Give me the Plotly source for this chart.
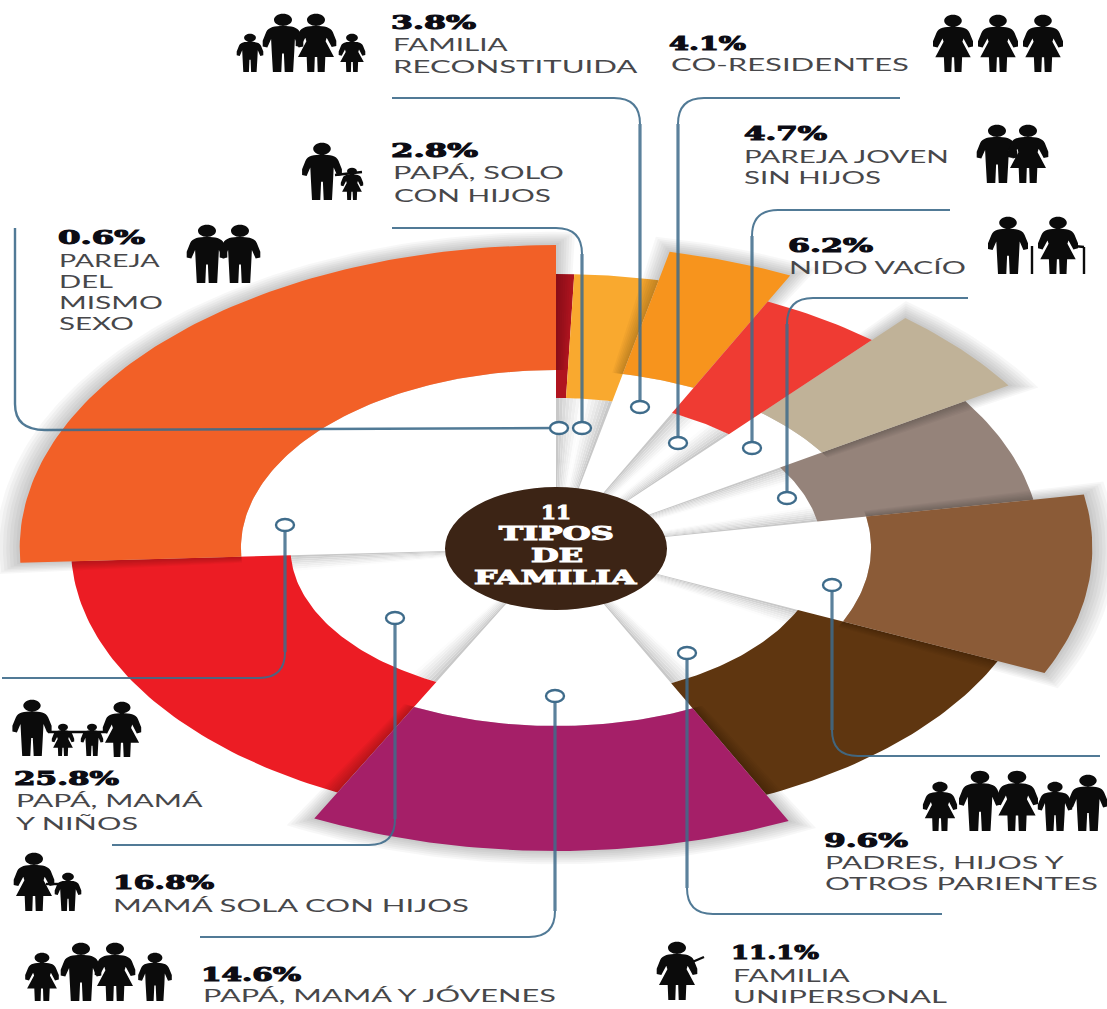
import json
import math
import plotly.graph_objects as go

# Household types, clockwise from twelve o'clock
categories = ["Pareja del mismo sexo", "Papá, solo con hijos", "Familia reconstituida",
              "Co-residentes", "Pareja joven sin hijos", "Nido vacío",
              "Padres, hijos y otros parientes", "Familia unipersonal",
              "Papá, mamá y jóvenes", "Mamá sola con hijos", "Papá, mamá y niños"]
shares = [0.6, 2.8, 3.8, 4.1, 4.7, 6.2, 9.6, 11.1, 14.6, 16.8, 25.8]
colors = ["#b0141f", "#f9a92f", "#f7941d", "#ef3b33", "#c0b298", "#95837a",
          "#8b5b37", "#5f3610", "#a51f68", "#ec1c24", "#f26027"]
raised = [False, False, True, False, True, False, True, False, True, False, True]

# Radial geometry of the exploded ring; the canvas is wider than tall
CX, CY, STRETCH = 556, 548, 1.77
R_LOW = (150, 274)
R_HIGH = (178, 303)

# Label lines: text, left edge, right edge, vertical centre
pct_lines = [("3.8%", 390, 475, 22), ("2.8%", 390, 477, 150), ("4.1%", 668, 745, 43),
             ("4.7%", 743, 826, 133), ("6.2%", 787, 872, 245), ("0.6%", 57, 144, 237),
             ("25.8%", 13, 118, 778), ("16.8%", 112, 213, 882), ("14.6%", 200, 300, 974),
             ("9.6%", 823, 907, 840), ("11.1%", 730, 818, 952)]
name_lines = [("FAMILIA", 392, 508, 44), ("RECONSTITUIDA", 392, 638, 66),
              ("PAPÁ, SOLO", 392, 563, 172), ("CON HIJOS", 393, 550, 195),
              ("CO-RESIDENTES", 670, 908, 64), ("PAREJA JOVEN", 743, 948, 156),
              ("SIN HIJOS", 743, 880, 177), ("NIDO VACÍO", 788, 965, 267),
              ("PAREJA", 58, 160, 260), ("DEL", 58, 112, 281), ("MISMO", 58, 162, 302),
              ("SEXO", 58, 133, 323), ("PAPÁ, MAMÁ", 15, 203, 800), ("Y NIÑOS", 15, 137, 823),
              ("MAMÁ SOLA CON HIJOS", 112, 468, 905), ("PAPÁ, MAMÁ Y JÓVENES", 202, 555, 995),
              ("PADRES, HIJOS Y", 824, 1064, 862), ("OTROS PARIENTES", 824, 1097, 883),
              ("FAMILIA", 732, 850, 975), ("UNIPERSONAL", 732, 946, 996)]
hub_lines = [("11", 540, 570, 512), ("TIPOS", 498, 613, 533),
             ("DE", 530, 582, 555), ("FAMILIA", 473, 637, 577)]

# Leader lines: outer end, corner (x, y), ring position
leaders = [((392, 98), (640, 98), (640, 407)),
           ((392, 228), (582, 228), (582, 428)),
           ((15, 228), (15, 430), (559, 428)),
           ((900, 98), (678, 98), (678, 443)),
           ((950, 210), (752, 210), (752, 448)),
           ((968, 298), (787, 298), (787, 498)),
           ((1100, 756), (832, 756), (832, 585)),
           ((2, 678), (285, 678), (285, 525)),
           ((112, 845), (395, 845), (395, 618)),
           ((200, 937), (555, 937), (555, 696)),
           ((942, 914), (687, 914), (687, 653))]

# Pictograms: centre x, top y, height, figure type
figures = [(250, 34, 38, "m"), (283, 14, 58, "m"), (316, 14, 58, "f"), (352, 34, 38, "f"),
           (322, 143, 57, "m"), (352, 168, 32, "f"),
           (953, 15, 57, "f"), (998, 15, 57, "f"), (1043, 15, 57, "f"),
           (997, 125, 58, "m"), (1028, 125, 58, "f"),
           (1008, 217, 57, "m"), (1058, 217, 57, "f"),
           (207, 225, 58, "m"), (240, 225, 58, "m"),
           (32, 700, 56, "m"), (63, 724, 32, "f"), (92, 724, 32, "m"), (122, 702, 55, "f"),
           (34, 853, 58, "f"), (68, 873, 38, "m"),
           (42, 953, 48, "f"), (81, 943, 58, "m"), (115, 943, 58, "f"), (155, 953, 48, "m"),
           (940, 782, 49, "f"), (980, 771, 60, "m"), (1017, 771, 60, "f"),
           (1055, 782, 49, "m"), (1088, 775, 56, "m"),
           (677, 942, 58, "f")]
# Thin extras on the pictograms: canes and joined hands
thin_strokes = [((1032, 246), (1032, 274)), ((1084, 247), (1084, 274)),
                ((1074, 246), (1084, 247)), ((48, 732), (107, 732)),
                ((46, 884), (60, 884)), ((335, 175), (362, 172)),
                ((690, 963), (704, 957))]


def xy(theta_deg, r):
    t = math.radians(theta_deg)
    return CX + STRETCH * r * math.sin(t), CY - r * math.cos(t)


def sector(t0, t1, r0, r1):
    n = max(4, int(abs(t1 - t0)))
    angles = [t0 + (t1 - t0) * i / n for i in range(n + 1)]
    outer = [xy(a, r1) for a in angles]
    inner = [xy(a, r0) for a in reversed(angles)] if r0 > 0 else [xy(t0, 0)]
    pts = outer + inner + [outer[0]]
    return [p[0] for p in pts], [p[1] for p in pts]


def area(xs, ys, fill):
    return go.Scatter(x=xs, y=ys, mode="lines", fill="toself", fillcolor=fill,
                      line=dict(width=0), hoverinfo="skip", showlegend=False)


total = sum(shares)
edges = [0.0]
for s in shares:
    edges.append(edges[-1] + s / total * 360)
# The two thinnest slices share one recessed inner fan
fans = [(edges[0], edges[2]), (edges[3], edges[4]), (edges[5], edges[6]),
        (edges[7], edges[8]), (edges[9], edges[10])]

fig = go.Figure()

# Folded grey edges of the recessed inner fans
STEPS = 8
STEP_DEG = 0.75
for k in range(STEPS):
    level = int(200 + (252 - 200) * (k / (STEPS - 1)) ** 0.8)
    xs, ys = [], []
    for a, b in fans:
        for lo, hi in ((a + k * STEP_DEG, a + (k + 1) * STEP_DEG),
                       (b - (k + 1) * STEP_DEG, b - k * STEP_DEG)):
            px, py = sector(lo, hi, 0, R_LOW[0])
            xs += px + [None]
            ys += py + [None]
    fig.add_trace(area(xs, ys, f"rgb({level},{level},{level})"))

# Recessed wedges, except the co-residents slice which sits on top of everything
for i in range(len(shares)):
    if not raised[i] and i != 3:
        fig.add_trace(area(*sector(edges[i], edges[i + 1], *R_LOW), colors[i]))

# Soft drop shadows and the raised wedges
for i in range(len(shares)):
    if raised[i]:
        for g in range(7, 0, -1):
            fig.add_trace(area(*sector(edges[i] - g * 0.28, edges[i + 1] + g * 0.28,
                                       R_HIGH[0], R_HIGH[1] + g * 1.9),
                               "rgba(0,0,0,0.03)"))
        fig.add_trace(area(*sector(edges[i], edges[i + 1], *R_HIGH), colors[i]))
fig.add_trace(area(*sector(edges[3], edges[4], *R_LOW), colors[3]))


def person_paths(cx, top, h, kind):
    def P(u, v):
        return f"{cx + u * h:.1f},{top + v * h:.1f}"

    if kind == "m":
        right = [(.35, .46), (.35, .56), (.27, .58), (.205, .43), (.195, .64),
                 (.175, 1.0), (.03, 1.0), (.015, .68)]
    else:
        right = [(.35, .46), (.35, .55), (.27, .57), (.185, .41), (.165, .47), (.31, .74),
                 (.16, .74), (.15, 1.0), (.03, 1.0), (.02, .74)]
    left = [(-u, v) for u, v in reversed(right)]
    body = f"M{P(0, .205)} C{P(.14, .205)} {P(.25, .22)} {P(.29, .31)} "
    body += " ".join("L" + P(*p) for p in right + left)
    body += f" L{P(-.29, .31)} C{P(-.25, .22)} {P(-.14, .205)} {P(0, .205)} Z"
    rx, ry, hy, k = .155, .105, .10, .5523
    head = (f"M{P(-rx, hy)} C{P(-rx, hy - k * ry)} {P(-k * rx, hy - ry)} {P(0, hy - ry)} "
            f"C{P(k * rx, hy - ry)} {P(rx, hy - k * ry)} {P(rx, hy)} "
            f"C{P(rx, hy + k * ry)} {P(k * rx, hy + ry)} {P(0, hy + ry)} "
            f"C{P(-k * rx, hy + ry)} {P(-rx, hy + k * ry)} {P(-rx, hy)} Z")
    return body + " " + head


shapes = []
for cx, top, h, kind in figures:
    shapes.append(dict(type="path", path=person_paths(cx, top, h, kind), fillcolor="#0b0b0b",
                       line=dict(width=0), layer="above"))
for (x0, y0), (x1, y1) in thin_strokes:
    shapes.append(dict(type="line", x0=x0, y0=y0, x1=x1, y1=y1,
                       line=dict(color="#0b0b0b", width=2.4), layer="above"))

# Leader lines: a thin run with a rounded elbow, then a heavier drop to the ring
LEAD = "#3f6c8b"
for (sx, sy), (cx, cy), (rx, ry) in leaders:
    if abs(cy - ry) > abs(cx - rx):
        dx = 1 if sx > cx else -1
        dy = 1 if ry > cy else -1
        elbow = f"M{sx},{sy} L{cx + dx * 26},{cy} Q{cx},{cy} {cx},{cy + dy * 26}"
        run = f"M{cx},{cy + dy * 26} L{cx},{ry}"
        shapes.append(dict(type="path", path=elbow, line=dict(color=LEAD, width=2), opacity=0.9))
        shapes.append(dict(type="path", path=run, line=dict(color=LEAD, width=3.2), opacity=0.85))
    else:
        # Vertical start, then a long horizontal towards the ring
        shapes.append(dict(type="path", path=f"M{sx},{sy} L{sx},{cy - 26} Q{sx},{cy} {sx + 30},{cy} L{rx},{ry}",
                           line=dict(color=LEAD, width=2.4), opacity=0.9))
    shapes.append(dict(type="circle", x0=rx - 9, x1=rx + 9, y0=ry - 6, y1=ry + 6,
                       fillcolor="white", line=dict(color=LEAD, width=2.4)))

# Central hub
shapes.append(dict(type="circle", x0=445, x1=667, y0=487, y1=610,
                   fillcolor="#3c2415", line=dict(width=0)))

annotations, widths, heavy = [], [], []


def add_line(text, x0, x1, y, family, size, color, bold=False):
    heavy.append(color if bold else None)
    annotations.append(dict(x=x0, y=y, xref="x", yref="y", text=f"<b>{text}</b>" if bold else text,
                            xanchor="left", yanchor="middle", showarrow=False, borderpad=0,
                            font=dict(family=family, size=size, color=color)))
    widths.append(x1 - x0)


for t, x0, x1, y in pct_lines:
    add_line(t, x0, x1, y, "DejaVu Serif", 18, "#0c0c14", True)
for t, x0, x1, y in name_lines:
    add_line(t, x0, x1, y, "Lato", 18, "#47474a")
for t, x0, x1, y in hub_lines:
    add_line(t, x0, x1, y, "DejaVu Serif", 18, "#ffffff", True)

fig.update_layout(
    width=1107, height=1009, margin=dict(l=0, r=0, t=0, b=0),
    paper_bgcolor="white", plot_bgcolor="white", showlegend=False,
    xaxis=dict(range=[0, 1107], visible=False, fixedrange=True),
    yaxis=dict(range=[1009, 0], visible=False, fixedrange=True),
    shapes=shapes, annotations=annotations,
)

# The lettering is set extra wide: scale each line horizontally to its measured width,
# and thicken the slab figures with a hairline stroke
post = """
var lineWidths = %s;
var heavyInk = %s;
function widen() {
  var groups = document.querySelectorAll('g.annotation');
  if (!groups.length) { setTimeout(widen, 40); return; }
  groups.forEach(function (g) {
    var i = +g.getAttribute('data-index');
    var t = g.querySelector('text.annotation-text') || g.querySelector('text');
    var bb = t.getBBox();
    var sx = lineWidths[i] / bb.width;
    t.setAttribute('transform', 'translate(' + bb.x + ' 0) scale(' + sx + ' 1) translate(' + (-bb.x) + ' 0)');
    if (heavyInk[i]) {
      t.style.stroke = heavyInk[i];
      t.style.strokeWidth = '1px';
    }
  });
}
widen();
""" % (json.dumps(widths), json.dumps(heavy))

fig.write_html("out.html", post_script=post, config=dict(displayModeBar=False))
